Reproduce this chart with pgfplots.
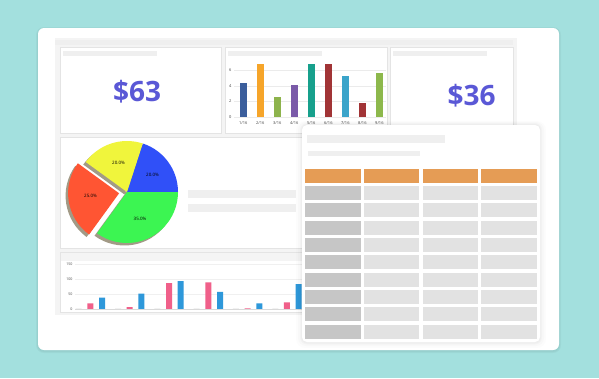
\documentclass[border=0pt]{standalone}
\usepackage{fontspec}
\setmainfont{Open Sans}
\usepackage{pgfplots}
\pgfplotsset{compat=1.18}
\definecolor{tealbg}{HTML}{A3E0DE}
\definecolor{dashbg}{HTML}{F4F4F4}
\definecolor{pborder}{HTML}{E4E4E4}
\definecolor{phold}{HTML}{EFEFEF}
\definecolor{bignum}{HTML}{5A58D6}
\definecolor{cA}{HTML}{3B5E9C}
\definecolor{cB}{HTML}{F6A52A}
\definecolor{cC}{HTML}{8DB34C}
\definecolor{cD}{HTML}{7A5AA8}
\definecolor{cE}{HTML}{17A08C}
\definecolor{cF}{HTML}{A13436}
\definecolor{cG}{HTML}{3BA4CA}
\definecolor{cH}{HTML}{A13436}
\definecolor{cI}{HTML}{8DB84C}
\definecolor{pblue}{HTML}{3050F8}
\definecolor{pyellow}{HTML}{F0F53C}
\definecolor{pred}{HTML}{FF5533}
\definecolor{pgreen}{HTML}{3CF552}
\definecolor{pshadow}{HTML}{A29A86}
\definecolor{bpink}{HTML}{F0608A}
\definecolor{bblue}{HTML}{2E98DA}
\definecolor{thead}{HTML}{E59C55}
\definecolor{tcol}{HTML}{C6C6C6}
\definecolor{tcell}{HTML}{E2E2E2}
\begin{document}
\begin{tikzpicture}
% ---------------- background, card, dashboard panels, pie ----------------
\begin{axis}[name=bg, at={(0pt,0pt)}, anchor=south west, scale only axis,
  width=599pt, height=378pt, xmin=0, xmax=599, ymin=0, ymax=378,
  y dir=reverse, hide axis, clip=false]
\fill[tealbg] (0,0) rectangle (599,378);
% card shadow
\fill[black, opacity=0.035, rounded corners=8pt] (36,27) rectangle (561,353);
\fill[black, opacity=0.035, rounded corners=7pt] (37,28) rectangle (560,352);
\fill[white, rounded corners=6pt] (38,28) rectangle (559,350);
% dashboard screenshot background
\fill[dashbg] (55,38) rectangle (517,315);
\fill[phold] (55,40) rectangle (513,45);
% panels
\filldraw[fill=white, draw=pborder, line width=0.6pt] (60,47) rectangle (221,133);
\filldraw[fill=white, draw=pborder, line width=0.6pt] (225,47) rectangle (387,133);
\filldraw[fill=white, draw=pborder, line width=0.6pt] (390,47) rectangle (513,133);
\filldraw[fill=white, draw=pborder, line width=0.6pt] (60,137) rectangle (513,248);
\filldraw[fill=white, draw=pborder, line width=0.6pt] (60,252) rectangle (513,312);
\fill[dashbg] (60.5,252.5) rectangle (512.5,261);
% title placeholders
\fill[phold] (63,51) rectangle (157,56);
\fill[phold] (228,51) rectangle (322,56);
\fill[phold] (393,51) rectangle (487,56);
\fill[phold] (188,190) rectangle (296,197.7);
\fill[phold] (188,204) rectangle (296,212);
% big numbers
\node[text=bignum, font=\fontsize{28}{30}\selectfont\bfseries] at (137,92) {\$63};
\node[text=bignum, font=\fontsize{28}{30}\selectfont\bfseries] at (471.5,96) {\$36};
% pie: shares 20 (blue), 20 (yellow), 25 (red, exploded), 35 (green)
\fill[pshadow, xshift=-2.5pt, yshift=-2.5pt] (127,192) -- ++(0:51pt) arc[start angle=0, end angle=72, radius=51pt] -- cycle;
\fill[pshadow, xshift=-2.5pt, yshift=-2.5pt] (127,192) -- ++(72:51pt) arc[start angle=72, end angle=144, radius=51pt] -- cycle;
\fill[pshadow, shift={(189:8pt)}, xshift=-2.5pt, yshift=-2.5pt] (127,192) -- ++(144:51pt) arc[start angle=144, end angle=234, radius=51pt] -- cycle;
\fill[pshadow, xshift=-2.5pt, yshift=-2.5pt] (127,192) -- ++(234:51pt) arc[start angle=234, end angle=360, radius=51pt] -- cycle;
\fill[pblue] (127,192) -- ++(0:51pt) arc[start angle=0, end angle=72, radius=51pt] -- cycle;
\fill[pyellow] (127,192) -- ++(72:51pt) arc[start angle=72, end angle=144, radius=51pt] -- cycle;
\fill[pred, shift={(189:8pt)}] (127,192) -- ++(144:51pt) arc[start angle=144, end angle=234, radius=51pt] -- cycle;
\fill[pgreen] (127,192) -- ++(234:51pt) arc[start angle=234, end angle=360, radius=51pt] -- cycle;
\node[font=\fontsize{4.5}{5}\selectfont] at (152.5,174.5) {20.0\%};
\node[font=\fontsize{4.5}{5}\selectfont] at (118.5,162.5) {20.0\%};
\node[font=\fontsize{4.5}{5}\selectfont] at (90.5,196) {25.0\%};
\node[font=\fontsize{4.5}{5}\selectfont] at (140,219) {35.0\%};
\end{axis}
% ---------------- top bar chart ----------------
\begin{axis}[at={(234pt,261pt)}, anchor=south west, scale only axis,
  width=152pt, height=56.2pt, xmin=0.45, xmax=9.39, ymin=0, ymax=7.2,
  axis line style={draw=none}, tick style={draw=none},
  ytick={0,2,4,6}, xtick={1,...,9},
  xticklabels={1/16,2/16,3/16,4/16,5/16,6/16,7/16,8/16,9/16},
  ymajorgrids, grid style={black!8, line width=0.4pt},
  /pgf/number format/assume math mode=true,
  tick label style={font=\fontsize{4}{4}\selectfont, text=black!75},
  xticklabel style={yshift=-1.5pt}, yticklabel style={xshift=1pt},
  clip=true]
\addplot[ybar, bar width=7pt, bar shift=0pt, fill=cA, draw=none] coordinates {(1,4.3)};
\addplot[ybar, bar width=7pt, bar shift=0pt, fill=cB, draw=none] coordinates {(2,6.8)};
\addplot[ybar, bar width=7pt, bar shift=0pt, fill=cC, draw=none] coordinates {(3,2.6)};
\addplot[ybar, bar width=7pt, bar shift=0pt, fill=cD, draw=none] coordinates {(4,4.1)};
\addplot[ybar, bar width=7pt, bar shift=0pt, fill=cE, draw=none] coordinates {(5,6.8)};
\addplot[ybar, bar width=7pt, bar shift=0pt, fill=cF, draw=none] coordinates {(6,6.8)};
\addplot[ybar, bar width=7pt, bar shift=0pt, fill=cG, draw=none] coordinates {(7,5.3)};
\addplot[ybar, bar width=7pt, bar shift=0pt, fill=cH, draw=none] coordinates {(8,1.85)};
\addplot[ybar, bar width=7pt, bar shift=0pt, fill=cI, draw=none] coordinates {(9,5.7)};
\draw[black!25, line width=0.5pt] (axis cs:0.45,0) -- (axis cs:9.39,0);
\end{axis}
% ---------------- bottom bar chart ----------------
\begin{axis}[at={(75pt,68.7pt)}, anchor=south west, scale only axis,
  width=230pt, height=48pt, xmin=0.46, xmax=6.31, ymin=0, ymax=160,
  axis line style={draw=none}, tick style={draw=none},
  ytick={0,50,100,150}, xtick=\empty,
  ymajorgrids, grid style={black!6, line width=0.4pt},
  /pgf/number format/assume math mode=true,
  tick label style={font=\fontsize{3.6}{4}\selectfont, text=black!70},
  yticklabel style={xshift=1pt}, clip=false]
\addplot[ybar, bar width=6pt, bar shift=-17.5pt, fill=black!15, draw=none] coordinates {(1,2) (2,2) (3,2) (4,2) (5,2) (6,2)};
\addplot[ybar, bar width=6pt, bar shift=-5.85pt, fill=bpink, draw=none] coordinates {(1,20) (2,7) (3,87) (4,90) (5,3) (6,23)};
\addplot[ybar, bar width=6pt, bar shift=5.85pt, fill=bblue, draw=none] coordinates {(1,39) (2,52) (3,94) (4,58) (5,20) (6,84)};
\draw[black!15, line width=0.5pt] (axis cs:0.46,0) -- (axis cs:6.31,0);
\end{axis}
% ---------------- table card overlay ----------------
\begin{axis}[at={(0pt,0pt)}, anchor=south west, scale only axis,
  width=599pt, height=378pt, xmin=0, xmax=599, ymin=0, ymax=378,
  y dir=reverse, hide axis, clip=false]
\fill[black, opacity=0.012, rounded corners=9pt] (296,121) rectangle (546,348);
\fill[black, opacity=0.015, rounded corners=8pt] (298,122) rectangle (544,346);
\fill[black, opacity=0.018, rounded corners=7pt] (300,123) rectangle (542,344.5);
\fill[black, opacity=0.02, rounded corners=6pt] (301,124) rectangle (541,343.5);
\fill[white, rounded corners=5pt] (302,125) rectangle (540,342);
\fill[phold] (306.5,135) rectangle (444.5,142.5);
\fill[phold] (307.5,150.5) rectangle (419.5,156);
\fill[thead] (305.3,169) rectangle (360.7,182.7);
\fill[thead] (364,169) rectangle (419.3,182.7);
\fill[thead] (422.7,169) rectangle (478,182.7);
\fill[thead] (481.3,169) rectangle (537,182.7);
\fill[tcol] (305.3,186) rectangle (360.7,200);
\fill[tcol] (305.3,203.3) rectangle (360.7,217.3);
\fill[tcol] (305.3,220.7) rectangle (360.7,234.7);
\fill[tcol] (305.3,238) rectangle (360.7,252);
\fill[tcol] (305.3,255.3) rectangle (360.7,269.3);
\fill[tcol] (305.3,272.7) rectangle (360.7,286.7);
\fill[tcol] (305.3,290) rectangle (360.7,304);
\fill[tcol] (305.3,307.3) rectangle (360.7,321.3);
\fill[tcol] (305.3,324.7) rectangle (360.7,338.7);
\fill[tcell] (364,186) rectangle (537,200);
\fill[tcell] (364,203.3) rectangle (537,217.3);
\fill[tcell] (364,220.7) rectangle (537,234.7);
\fill[tcell] (364,238) rectangle (537,252);
\fill[tcell] (364,255.3) rectangle (537,269.3);
\fill[tcell] (364,272.7) rectangle (537,286.7);
\fill[tcell] (364,290) rectangle (537,304);
\fill[tcell] (364,307.3) rectangle (537,321.3);
\fill[tcell] (364,324.7) rectangle (537,338.7);
\fill[white] (419.3,185) rectangle (422.7,340);
\fill[white] (478,185) rectangle (481.3,340);
\end{axis}
\end{tikzpicture}
\end{document}
